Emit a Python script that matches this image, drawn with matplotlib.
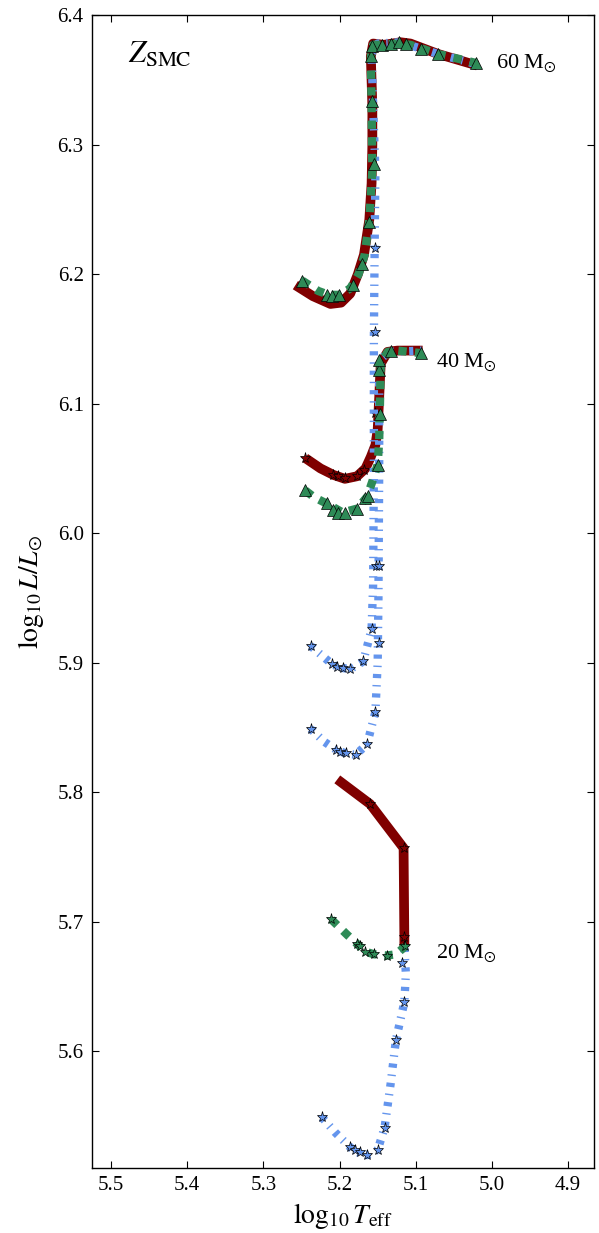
import matplotlib
matplotlib.use('Agg')
import matplotlib.pyplot as plt

plt.rcParams['font.family'] = ['Liberation Serif', 'DejaVu Serif']
plt.rcParams['mathtext.fontset'] = 'stix'
plt.rcParams['lines.scale_dashes'] = False
plt.rcParams['lines.dashed_pattern'] = [6, 6]
plt.rcParams['lines.dashdot_pattern'] = [3, 5, 1, 5]

# ---- 60 Msun tracks ----
red60_x = [5.258, 5.235, 5.212, 5.198, 5.186, 5.176, 5.168, 5.161, 5.158, 5.157, 5.157, 5.159, 5.156, 5.142, 5.120, 5.107, 5.071, 5.019]
red60_y = [6.1915, 6.183, 6.177, 6.178, 6.185, 6.200, 6.215, 6.242, 6.270, 6.300, 6.330, 6.368, 6.378, 6.377, 6.379, 6.378, 6.370, 6.361]

grn60_x = [5.249, 5.228, 5.214, 5.200, 5.186, 5.175, 5.167, 5.161, 5.157, 5.158, 5.159, 5.156, 5.144, 5.122, 5.107, 5.071, 5.021]
grn60_y = [6.195, 6.187, 6.184, 6.184, 6.189, 6.200, 6.215, 6.242, 6.280, 6.330, 6.368, 6.377, 6.377, 6.378, 6.377, 6.370, 6.363]
grn60_mx = [5.249, 5.216, 5.210, 5.201, 5.183, 5.170, 5.162, 5.155, 5.158, 5.159, 5.158, 5.144, 5.133, 5.122, 5.113, 5.093, 5.071, 5.021]
grn60_my = [6.195, 6.184, 6.183, 6.184, 6.192, 6.208, 6.240, 6.285, 6.334, 6.368, 6.376, 6.377, 6.378, 6.379, 6.378, 6.374, 6.370, 6.363]

blu60_x = [5.238, 5.222, 5.210, 5.203, 5.196, 5.186, 5.169, 5.158, 5.156, 5.155, 5.155, 5.154, 5.153, 5.156, 5.158, 5.150, 5.120, 5.071, 5.020]
blu60_y = [5.913, 5.905, 5.899, 5.897, 5.896, 5.895, 5.901, 5.926, 5.960, 6.050, 6.150, 6.220, 6.280, 6.330, 6.370, 6.378, 6.379, 6.370, 6.362]
blu60_mx = [5.238, 5.210, 5.203, 5.196, 5.186, 5.169, 5.158, 5.152, 5.153, 5.154]
blu60_my = [5.913, 5.899, 5.897, 5.896, 5.895, 5.901, 5.926, 5.975, 6.155, 6.220]

# ---- 40 Msun tracks ----
red40_x = [5.245, 5.225, 5.208, 5.193, 5.177, 5.166, 5.159, 5.153, 5.150, 5.148, 5.146, 5.137, 5.124, 5.091]
red40_y = [6.058, 6.050, 6.045, 6.042, 6.044, 6.050, 6.059, 6.068, 6.080, 6.105, 6.131, 6.140, 6.141, 6.141]
red40_mx = [5.245, 5.208, 5.202, 5.193, 5.177, 5.168, 5.153]
red40_my = [6.058, 6.045, 6.044, 6.043, 6.044, 6.049, 6.093]

grn40_x = [5.245, 5.234, 5.214, 5.196, 5.177, 5.164, 5.157, 5.150, 5.148, 5.147, 5.146, 5.137, 5.124, 5.093]
grn40_y = [6.033, 6.028, 6.022, 6.016, 6.019, 6.028, 6.040, 6.053, 6.072, 6.100, 6.131, 6.140, 6.141, 6.139]
grn40_mx = [5.245, 5.216, 5.208, 5.202, 5.193, 5.177, 5.166, 5.163, 5.150, 5.147, 5.148, 5.148, 5.133, 5.093]
grn40_my = [6.033, 6.023, 6.018, 6.016, 6.016, 6.019, 6.027, 6.029, 6.053, 6.092, 6.126, 6.134, 6.141, 6.139]

blu40_x = [5.238, 5.220, 5.205, 5.192, 5.179, 5.164, 5.153, 5.150, 5.149, 5.148, 5.148, 5.145, 5.135, 5.090]
blu40_y = [5.849, 5.839, 5.833, 5.830, 5.829, 5.837, 5.862, 5.900, 5.950, 6.050, 6.120, 6.135, 6.140, 6.141]
blu40_mx = [5.238, 5.205, 5.199, 5.192, 5.179, 5.164, 5.153, 5.148, 5.148]
blu40_my = [5.849, 5.833, 5.831, 5.830, 5.829, 5.837, 5.862, 5.915, 5.975]

# ---- 20 Msun tracks ----
red20_x = [5.203, 5.160, 5.116, 5.115, 5.115]
red20_y = [5.810, 5.791, 5.757, 5.688, 5.681]
red20_mx = [5.160, 5.116, 5.115, 5.115]
red20_my = [5.791, 5.757, 5.688, 5.681]

grn20_x = [5.211, 5.190, 5.177, 5.166, 5.155, 5.138, 5.126, 5.114]
grn20_y = [5.702, 5.690, 5.683, 5.677, 5.675, 5.674, 5.675, 5.681]
grn20_mx = [5.211, 5.177, 5.173, 5.166, 5.155, 5.138, 5.114]
grn20_my = [5.702, 5.683, 5.681, 5.677, 5.675, 5.674, 5.681]

blu20_x = [5.223, 5.205, 5.186, 5.177, 5.164, 5.150, 5.141, 5.133, 5.126, 5.115, 5.113, 5.115]
blu20_y = [5.549, 5.537, 5.526, 5.522, 5.520, 5.524, 5.541, 5.575, 5.609, 5.638, 5.660, 5.681]
blu20_mx = [5.223, 5.186, 5.180, 5.173, 5.164, 5.150, 5.141, 5.126, 5.115, 5.118]
blu20_my = [5.549, 5.526, 5.524, 5.522, 5.520, 5.524, 5.541, 5.609, 5.638, 5.668]

mass_labels = ['60 M$_{\\odot}$', '40 M$_{\\odot}$', '20 M$_{\\odot}$']
label_x = [4.995, 5.074, 5.074]
label_y = [6.363, 6.132, 5.676]

red = '#800000'
green = '#2e8b57'
blue = '#6495ed'

fig = plt.figure(figsize=(5.99, 12.33), dpi=100)
ax = fig.add_axes([0.1536, 0.0527, 0.8381, 0.9351])

# red (solid)
for x, y in [(red60_x, red60_y), (red40_x, red40_y), (red20_x, red20_y)]:
    ax.plot(x, y, '-', color=red, lw=7, solid_capstyle='butt', zorder=1)
for x, y in [(red40_mx, red40_my), (red20_mx, red20_my)]:
    ax.plot(x, y, '*', color=red, ms=8, mec='k', mew=0.5, zorder=1.5)

# blue (dash-dot)
for x, y in [(blu60_x, blu60_y), (blu40_x, blu40_y), (blu20_x, blu20_y)]:
    ax.plot(x, y, '-.', color=blue, lw=6, dash_capstyle='butt', zorder=2)
for x, y in [(blu60_mx, blu60_my), (blu40_mx, blu40_my), (blu20_mx, blu20_my)]:
    ax.plot(x, y, '*', color=blue, ms=8, mec='k', mew=0.5, zorder=2.5)

# green (dashed)
for x, y in [(grn60_x, grn60_y), (grn40_x, grn40_y), (grn20_x, grn20_y)]:
    ax.plot(x, y, '--', color=green, lw=6, dash_capstyle='butt', zorder=3)
for x, y in [(grn60_mx, grn60_my), (grn40_mx, grn40_my)]:
    ax.plot(x, y, '^', color=green, ms=8, mec='k', mew=0.5, zorder=3.5)
ax.plot(grn20_mx, grn20_my, '*', color=green, ms=8, mec='k', mew=0.5, zorder=3.5)

for lab, lx, ly in zip(mass_labels, label_x, label_y):
    ax.text(lx, ly, lab, fontsize=16, va='center', ha='left')

ax.text(5.478, 6.369, '$Z_{\\rm SMC}$', fontsize=22, va='center', ha='left')

ax.set_xlim(5.525, 4.866)
ax.set_ylim(5.51, 6.4)
ax.set_xticks([5.5, 5.4, 5.3, 5.2, 5.1, 5.0, 4.9])
ax.set_xticklabels(['5.5', '5.4', '5.3', '5.2', '5.1', '5.0', '4.9'])
ax.set_yticks([5.6, 5.7, 5.8, 5.9, 6.0, 6.1, 6.2, 6.3, 6.4])
ax.set_yticklabels(['5.6', '5.7', '5.8', '5.9', '6.0', '6.1', '6.2', '6.3', '6.4'])
ax.tick_params(direction='in', top=True, right=True, length=5, width=0.8, labelsize=15, pad=6)
for s in ax.spines.values():
    s.set_linewidth(1.0)

ax.set_xlabel('$\\log_{10} T_{\\rm eff}$', fontsize=20, labelpad=4)
ax.set_ylabel('$\\log_{10} L/L_{\\odot}$', fontsize=20, labelpad=8)

fig.savefig('out.png', dpi=100)
